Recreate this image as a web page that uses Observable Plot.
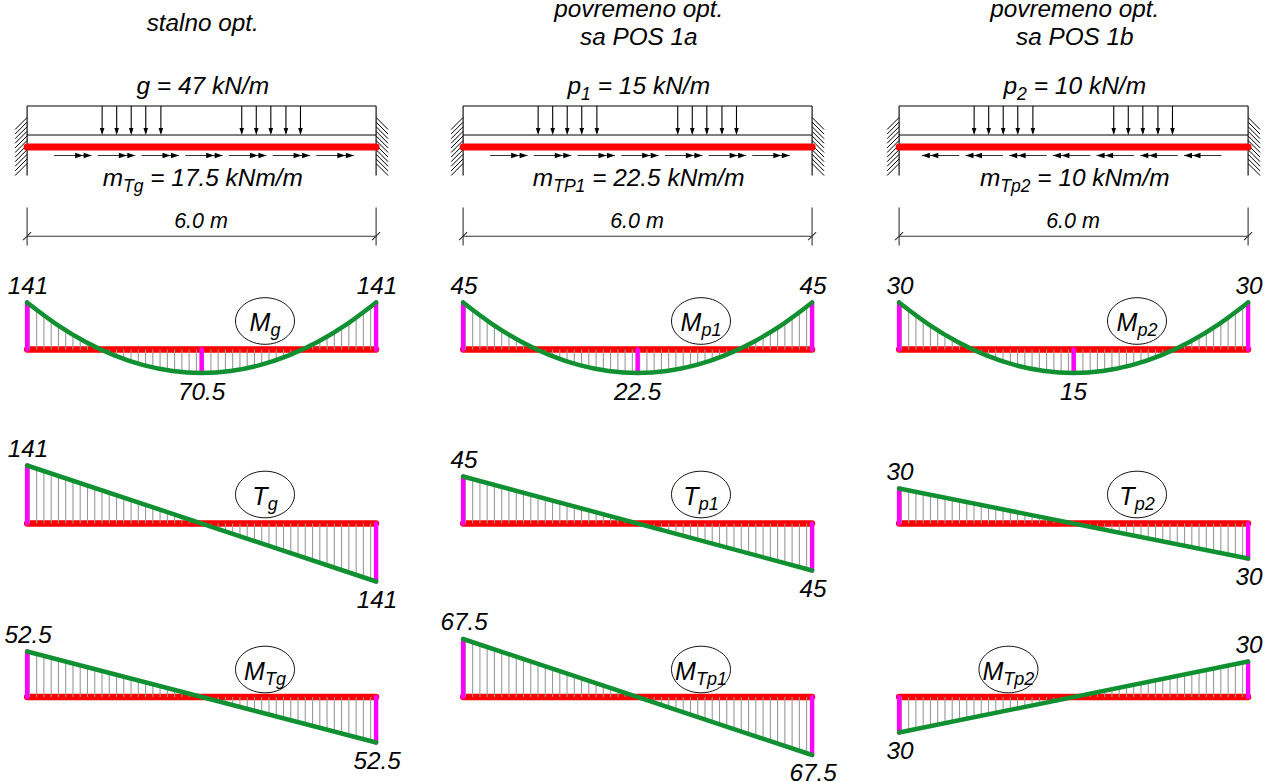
<!DOCTYPE html>
<html>
<head>
<meta charset="utf-8">
<script src="https://cdn.jsdelivr.net/npm/d3@7"></script>
<script src="https://cdn.jsdelivr.net/npm/@observablehq/plot@0.6"></script>
<style>
html,body{margin:0;padding:0;background:#fff}
svg{display:block}
</style>
</head>
<body>
<div id="chart"></div>
<script>
// ---------- values ----------
const titlesTop = ["", "povremeno opt.", "povremeno opt."];
const titlesMid = ["stalno opt.", "", ""];
const titlesLow = ["", "sa POS 1a", "sa POS 1b"];
const loadLabels = ["g = 47 kN/m", "p|1| = 15 kN/m", "p|2| = 10 kN/m"];
const torqueLabels = ["m|Tg| = 17.5 kNm/m", "m|TP1| = 22.5 kNm/m", "m|Tp2| = 10 kNm/m"];
const spanLabel = "6.0 m";
const spanM = 6;
const loadArrowsM = [1.29, 1.54, 1.79, 2.04, 2.30, 3.69, 3.94, 4.19, 4.45, 4.70];
const torqueArrowDir = [1, 1, -1];

const stationsM = [0, 0.5, 1, 1.5, 2, 2.5, 3, 3.5, 4, 4.5, 5, 5.5, 6];
const Mg  = [141, 76.4, 23.5, -17.6, -47, -64.6, -70.5, -64.6, -47, -17.6, 23.5, 76.4, 141];
const Mp1 = [45, 24.4, 7.5, -5.6, -15, -20.6, -22.5, -20.6, -15, -5.6, 7.5, 24.4, 45];
const Mp2 = [30, 16.25, 5, -3.75, -10, -13.75, -15, -13.75, -10, -3.75, 5, 16.25, 30];
const linearStationsM = [0, 6];
const Tg   = [141, -141];
const Tp1  = [45, -45];
const Tp2  = [30, -30];
const MTg  = [52.5, -52.5];
const MTp1 = [67.5, -67.5];
const MTp2 = [-30, 30];

// diagrams: name parts, values, drawing height of the largest ordinate
const diagrams = [
  {col:0,row:0,name:"M|g|",   xs:stationsM,ys:Mg,  h:47,  mid:true,  nameX:4.09},
  {col:1,row:0,name:"M|p1|",  xs:stationsM,ys:Mp1, h:47,  mid:true,  nameX:4.09},
  {col:2,row:0,name:"M|p2|",  xs:stationsM,ys:Mp2, h:47,  mid:true,  nameX:4.09},
  {col:0,row:1,name:"T|g|",   xs:linearStationsM,ys:Tg,  h:58,  nameX:4.09},
  {col:1,row:1,name:"T|p1|",  xs:linearStationsM,ys:Tp1, h:47,  nameX:4.09},
  {col:2,row:1,name:"T|p2|",  xs:linearStationsM,ys:Tp2, h:35,  nameX:4.09},
  {col:0,row:2,name:"M|Tg|",  xs:linearStationsM,ys:MTg, h:45.5,nameX:4.09},
  {col:1,row:2,name:"M|Tp1|", xs:linearStationsM,ys:MTp1,h:58,  nameX:4.09},
  {col:2,row:2,name:"M|Tp2|", xs:linearStationsM,ys:MTp2,h:35.5,nameX:1.88}
];

// ---------- layout ----------
const W = 1274, H = 782;
const pxPerM = 349 / 6;
const left = 26.6;
const colStep = 436 / pxPerM;
const colCentre = 3.02;
const rowBase = [349, 523, 696.5];
const nameDy = [-28.5, -29, -27.5];
const beam = {top:105.5, bottom:134.5, red:146.5, torque:155, torqueLabel:178, loadLabel:86,
  dim:235.7, dimTop:207, dimBot:245, dimText:221, wallTop:117, wallBot:175};
const px = v => v / pxPerM;
const X = (c, m) => c * colStep + m;

// ---------- derived mark data ----------
const cols = [0, 1, 2];
const seg = [];
const addSeg = (c, m1, y1, m2, y2) => seg.push({x1:X(c,m1), y1, x2:X(c,m2), y2});
cols.forEach(c => {
  addSeg(c, 0, beam.top, spanM, beam.top);
  addSeg(c, 0, beam.bottom, spanM, beam.bottom);
  addSeg(c, 0, beam.top, 0, beam.wallBot);
  addSeg(c, spanM, beam.top, spanM, beam.wallBot);
  loadArrowsM.forEach(m => addSeg(c, m, beam.top, m, beam.bottom - 2));
});
const wallHatch = [];
cols.forEach(c => {
  for (let y = beam.wallTop; y <= beam.wallBot - 12; y += 4.6) {
    wallHatch.push({x1:X(c,0), y1:y, x2:X(c,-px(12)), y2:y+12});
    wallHatch.push({x1:X(c,spanM), y1:y, x2:X(c,spanM+px(12)), y2:y+12});
  }
});
const dimSegs = [];
cols.forEach(c => {
  dimSegs.push({x1:X(c,0), y1:beam.dim, x2:X(c,spanM), y2:beam.dim});
  [0, spanM].forEach(m => {
    dimSegs.push({x1:X(c,m), y1:beam.dimTop, x2:X(c,m), y2:beam.dimBot});
    dimSegs.push({x1:X(c,m-px(4)), y1:beam.dim+4, x2:X(c,m+px(4)), y2:beam.dim-4});
  });
});
const torqueSegs = [], torqueHeads = [];
cols.forEach(c => {
  const dir = torqueArrowDir[c];
  const start = px(dir > 0 ? 27 : 22.7);
  for (let i = 0; i < 7; i++) {
    const s = start + i * px(43.7), e = s + px(37.5);
    torqueSegs.push({x1:X(c,s), y1:beam.torque, x2:X(c,e), y2:beam.torque});
    if (dir > 0) {
      torqueHeads.push({x:X(c,e), y:beam.torque, rot:-90});
      torqueHeads.push({x:X(c,e-px(8.5)), y:beam.torque, rot:-90});
    } else {
      torqueHeads.push({x:X(c,s), y:beam.torque, rot:90});
      torqueHeads.push({x:X(c,s+px(8.5)), y:beam.torque, rot:90});
    }
  }
});

const interp = (d, m) => {
  let i = 0;
  while (i < d.xs.length - 2 && m > d.xs[i + 1]) i++;
  const t = (m - d.xs[i]) / (d.xs[i + 1] - d.xs[i]);
  return d.ys[i] + t * (d.ys[i + 1] - d.ys[i]);
};
const Yd = (d, v) => {
  const k = d.h / Math.max(...d.ys.map(Math.abs));
  return rowBase[d.row] - v * k;
};
const redBase = [], hatches = [], magenta = [], curve = [], valueLabels = [], names = [];
diagrams.forEach((d, id) => {
  const base = rowBase[d.row];
  redBase.push({x1:X(d.col,0), x2:X(d.col,spanM), y1:base, y2:base});
  for (let i = 0; i < 48; i++) {
    const m = px(2.3) + i * px(7.26);
    hatches.push({x1:X(d.col,m), x2:X(d.col,m), y1:base, y2:Yd(d, interp(d, m))});
  }
  const ends = [0, d.xs.length - 1];
  ends.forEach(i => {
    magenta.push({x1:X(d.col,d.xs[i]), x2:X(d.col,d.xs[i]), y1:base, y2:Yd(d,d.ys[i])});
    valueLabels.push({x:X(d.col,d.xs[i]) + px(1), y:Yd(d,d.ys[i]) + (d.ys[i] > 0 ? -16.5 : 18.5), t:String(Math.abs(d.ys[i]))});
  });
  if (d.mid) {
    magenta.push({x1:X(d.col,3), x2:X(d.col,3), y1:base, y2:Yd(d,d.ys[6])});
    valueLabels.push({x:X(d.col,3), y:Yd(d,d.ys[6]) + 19, t:String(Math.abs(d.ys[6]))});
  }
  d.xs.forEach((m, i) => curve.push({x:X(d.col,m), y:Yd(d,d.ys[i]), id}));
  names.push({x:X(d.col,d.nameX), y:base + nameDy[d.row], t:d.name});
});

const tx = (arr, y) => arr.map((t, c) => ({x:X(c, colCentre), y, t})).filter(d => d.t);
const FONT = "Liberation Sans, Arial, sans-serif";
const link = (data, o) => Plot.link(data, {x1:"x1", y1:"y1", x2:"x2", y2:"y2", ...o});
const txt = (data, size) => Plot.text(data, {x:"x", y:"y", text:"t", fontSize:size, fontStyle:"italic",
  fontFamily:FONT, fill:"#000", textAnchor:"middle", lineAnchor:"middle"});

const head = {draw(ctx, size){
  const r = Math.sqrt(size / Math.PI);
  ctx.moveTo(0, 0); ctx.lineTo(-r * 0.33, -r); ctx.lineTo(r * 0.33, -r); ctx.closePath();
}};
const ellipse = {draw(ctx, size){
  const rx = Math.sqrt(size / Math.PI), ry = rx * 0.79, c = 0.5523;
  ctx.moveTo(rx, 0);
  ctx.bezierCurveTo(rx, ry*c, rx*c, ry, 0, ry);
  ctx.bezierCurveTo(-rx*c, ry, -rx, ry*c, -rx, 0);
  ctx.bezierCurveTo(-rx, -ry*c, -rx*c, -ry, 0, -ry);
  ctx.bezierCurveTo(rx*c, -ry, rx, -ry*c, rx, 0);
  ctx.closePath();
}};
const loadHeads = [];
cols.forEach(c => loadArrowsM.forEach(m => loadHeads.push({x:X(c,m), y:beam.bottom})));

const chart = Plot.plot({
  width: W, height: H, margin: 0,
  x: {domain:[-left / pxPerM, (W - left) / pxPerM], range:[0, W], axis:null},
  y: {domain:[0, H], range:[0, H], axis:null},
  style: {background:"#fff"},
  marks: [
    link(wallHatch, {stroke:"#000", strokeWidth:1}),
    link(seg, {stroke:"#000", strokeWidth:1.1}),
    link(cols.map(c => ({x1:X(c,0), x2:X(c,spanM), y1:beam.red, y2:beam.red})),
         {stroke:"#ff0000", strokeWidth:7, strokeLinecap:"round"}),
    link(torqueSegs, {stroke:"#333", strokeWidth:1.1}),
    Plot.dot(loadHeads, {x:"x", y:"y", r:7, symbol:head, fill:"#000", stroke:"none"}),
    ...[-90, 90].map(a => Plot.dot(torqueHeads.filter(d => d.rot === a),
      {x:"x", y:"y", r:8, symbol:head, fill:"#000", stroke:"none", rotate:a})),
    link(dimSegs, {stroke:"#333", strokeWidth:1.1}),
    link(redBase, {stroke:"#ff0000", strokeWidth:6.3, strokeLinecap:"round"}),
    link(hatches, {stroke:"#999", strokeWidth:1.1}),
    link(magenta, {stroke:"#ff00ff", strokeWidth:4.4, strokeLinecap:"round"}),
    Plot.line(curve, {x:"x", y:"y", z:"id", curve:"catmull-rom", stroke:"#109030", strokeWidth:4.5, strokeLinecap:"round"}),
    Plot.dot(names, {x:"x", y:"y", r:29.5, symbol:ellipse, fill:"none", stroke:"#111", strokeWidth:1}),
    txt(tx(titlesTop, 9), 24.3),
    txt(tx(titlesMid, 23), 24.3),
    txt(tx(titlesLow, 37), 24.3),
    txt(tx(loadLabels, beam.loadLabel), 24.5),
    txt(tx(torqueLabels, beam.torqueLabel), 24.4),
    txt(cols.map(c => ({x:X(c,colCentre - 0.03), y:beam.dimText, t:spanLabel})), 21.5),
    txt(valueLabels, 24.3),
    txt(names.map(d => ({...d, y:d.y + 2})), 25)
  ]
});

// Turn the "a|b|c" notation into real subscript text
d3.select(chart).selectAll("text").each(function () {
  const s = this.textContent;
  if (!s.includes("|")) return;
  const parts = s.split("|");
  this.textContent = "";
  parts.forEach((p, i) => {
    if (!p) return;
    const t = d3.select(this).append("tspan").text(p);
    if (i === 1) t.attr("font-size", "0.72em").attr("dy", "0.3em");
    if (i === 2) t.attr("dy", "-0.216em");
  });
});

document.getElementById("chart").append(chart);
</script>
</body>
</html>
